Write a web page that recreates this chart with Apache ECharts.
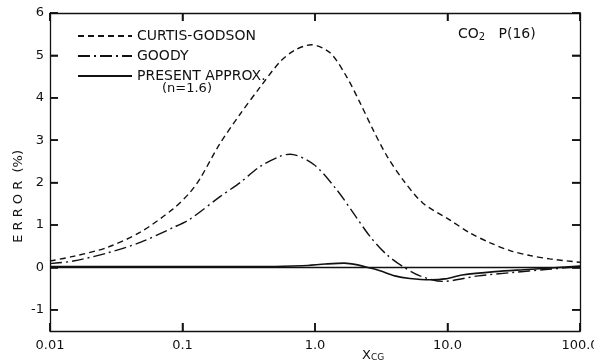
<!DOCTYPE html>
<html>
<head>
<meta charset="utf-8">
<script src="https://cdn.jsdelivr.net/npm/echarts@6/dist/echarts.min.js"></script>
<style>
html,body{margin:0;padding:0;background:#fff;}
#chart{width:594px;height:364px;}
</style>
</head>
<body>
<div id="chart"></div>
<script>
// ---- data ----
var xTickValues = [0.01, 0.1, 1, 10, 100];
var xTickLabels = ['0.01', '0.1', '1.0', '10.0', '100.0'];
var yTickValues = [-1, 0, 1, 2, 3, 4, 5, 6];

var curtisX = [0.01, 0.015, 0.027, 0.048, 0.085, 0.114, 0.136, 0.19, 0.27, 0.385, 0.545, 0.7, 0.94, 1.3, 1.73, 2.19, 2.74, 3.5, 4.6, 6.5, 10.4, 14.8, 21, 30, 42, 59, 100];
var curtisY = [0.15, 0.26, 0.47, 0.83, 1.38, 1.77, 2.1, 2.9, 3.6, 4.25, 4.85, 5.12, 5.25, 5.06, 4.5, 3.88, 3.25, 2.62, 2.07, 1.52, 1.12, 0.81, 0.58, 0.39, 0.28, 0.2, 0.12];

var goodyX = [0.01, 0.015, 0.027, 0.048, 0.085, 0.114, 0.192, 0.272, 0.385, 0.545, 0.647, 0.985, 1.46, 1.95, 2.6, 3.48, 4.6, 6.2, 9.2, 17, 31, 55, 100];
var goodyY = [0.09, 0.15, 0.34, 0.59, 0.94, 1.14, 1.67, 2.0, 2.38, 2.62, 2.67, 2.42, 1.83, 1.28, 0.73, 0.3, 0.02, -0.2, -0.33, -0.2, -0.12, -0.05, 0.02];

var presentX = [0.01, 0.3, 0.8, 1.2, 1.66, 2.1, 2.5, 3.1, 4.0, 5.2, 7.4, 9.6, 12.9, 22.8, 40.5, 100];
var presentY = [0.02, 0.02, 0.04, 0.08, 0.1, 0.06, 0.0, -0.08, -0.2, -0.26, -0.29, -0.27, -0.18, -0.1, -0.05, 0.03];

var seriesNames = ['CURTIS-GODSON', 'GOODY', 'PRESENT APPROX.'];

var X_MIN = 0.01, X_MAX = 100, Y_MIN = -1.5, Y_MAX = 6;

function pairs(xs, ys) { return xs.map(function (x, i) { return [x, ys[i]]; }); }

var chart = echarts.init(document.getElementById('chart'));
var FONT = 'DejaVu Sans';
var ink = '#111';
var TICK = 8;
var TW = 1.5;

var xLabelFmt = function (v) { return xTickLabels[Math.round(Math.log10(v)) + 2]; };

// inward tick marks placed through the axes' scales (markPoint at tick values)
var tickMarks = [];
yTickValues.forEach(function (v) {
  tickMarks.push({coord: [X_MIN, v], symbolSize: [TICK, TW], symbolOffset: [TICK / 2, 0]});
  tickMarks.push({coord: [X_MAX, v], symbolSize: [TICK, TW], symbolOffset: [-TICK / 2, 0]});
});
xTickValues.forEach(function (v) {
  tickMarks.push({coord: [v, Y_MIN], symbolSize: [TW, TICK], symbolOffset: [0, -TICK / 2]});
  tickMarks.push({coord: [v, Y_MAX], symbolSize: [TW, TICK], symbolOffset: [0, TICK / 2]});
});

function xAxisDef(pos, withLabels) {
  return {
    type: 'log', min: X_MIN, max: X_MAX, position: pos,
    axisLine: {onZero: false, lineStyle: {color: ink, width: 1.3}},
    axisTick: {show: true, inside: true, length: TICK, customValues: xTickValues, lineStyle: {color: ink, width: TW}},
    splitLine: {show: false},
    axisLabel: {show: withLabels, customValues: xTickValues, fontFamily: FONT, fontSize: 13, color: ink, margin: 8, formatter: xLabelFmt}
  };
}
function yAxisDef(pos, withLabels) {
  return {
    type: 'value', min: Y_MIN, max: Y_MAX, position: pos,
    axisLine: {show: true, onZero: false, lineStyle: {color: ink, width: 1.3}},
    axisTick: {show: true, inside: true, length: TICK, customValues: yTickValues, lineStyle: {color: ink, width: TW}},
    splitLine: {show: false},
    axisLabel: {show: withLabels, customValues: yTickValues, fontFamily: FONT, fontSize: 13, color: ink, margin: 6}
  };
}

var option = {
  animation: false,
  grid: {left: 50, right: 14, top: 13, bottom: 33, outerBoundsMode: 'none'},
  legend: {
    orient: 'vertical', left: 72, top: 24,
    itemWidth: 54, itemHeight: 14, itemGap: 6,
    data: seriesNames,
    itemStyle: {opacity: 0},
    textStyle: {fontFamily: FONT, fontSize: 14, color: ink}
  },
  xAxis: [xAxisDef('bottom', true), xAxisDef('top', false)],
  yAxis: [yAxisDef('left', true), yAxisDef('right', false)],
  series: [{
    name: seriesNames[0], type: 'line', xAxisIndex: 0, yAxisIndex: 0,
    data: pairs(curtisX, curtisY), smooth: 0.3, showSymbol: false, symbol: 'none',
    lineStyle: {color: ink, width: 1.4, type: [6, 4]}, itemStyle: {color: ink}
  }, {
    name: seriesNames[1], type: 'line', xAxisIndex: 0, yAxisIndex: 0,
    data: pairs(goodyX, goodyY), smooth: 0.3, showSymbol: false, symbol: 'none',
    lineStyle: {color: ink, width: 1.4, type: [12, 4, 2, 4]}, itemStyle: {color: ink}
  }, {
    name: seriesNames[2], type: 'line', xAxisIndex: 0, yAxisIndex: 0,
    data: pairs(presentX, presentY), smooth: 0.3, showSymbol: false, symbol: 'none',
    lineStyle: {color: ink, width: 1.6, type: 'solid'}, itemStyle: {color: ink},
    markLine: {
      silent: true, symbol: ['none', 'none'], label: {show: false},
      lineStyle: {color: ink, width: 1.3, type: 'solid'},
      data: [{yAxis: 0}]
    },
    markPoint: {
      silent: true, symbol: 'rect', label: {show: false},
      itemStyle: {color: ink, borderWidth: 0},
      data: tickMarks
    }
  }],
  graphic: [{
    type: 'text', left: 162, top: 82,
    style: {text: '(n=1.6)', font: '13px "DejaVu Sans"', fill: ink}
  }, {
    type: 'text', left: 458, top: 27,
    style: {
      text: 'CO{s|2}   P(16)', font: '14px "DejaVu Sans"', fill: ink,
      rich: {s: {font: '10px "DejaVu Sans"', fill: ink, padding: [6, 0, 0, 0]}}
    }
  }, {
    type: 'text', left: 362, top: 349,
    style: {
      text: 'X{s|CG}', font: '13px "DejaVu Sans"', fill: ink,
      rich: {s: {font: '9px "DejaVu Sans"', fill: ink, padding: [5, 0, 0, 0]}}
    }
  }, {
    type: 'text', left: 12, top: 150, rotation: Math.PI / 2,
    style: {text: 'E R R O R  (%)', font: '13px "DejaVu Sans"', fill: ink}
  }]
};
chart.setOption(option);
</script>
</body>
</html>
